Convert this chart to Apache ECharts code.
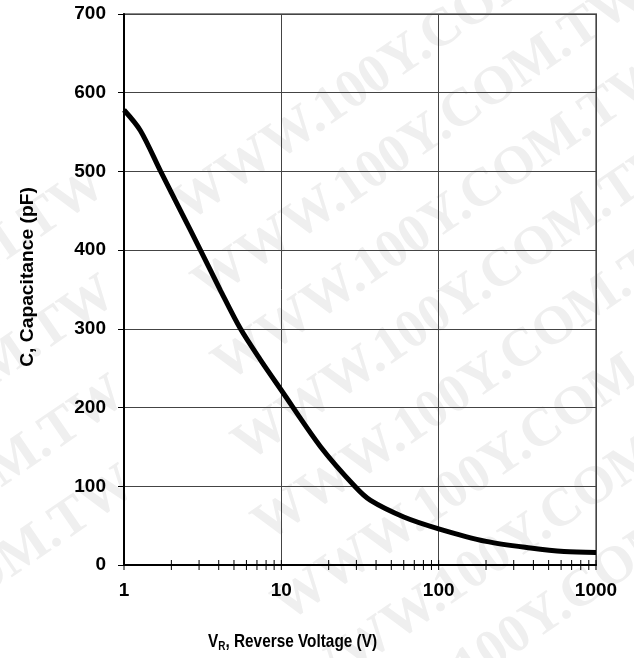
<!DOCTYPE html>
<html>
<head>
<meta charset="utf-8">
<script src="https://cdn.jsdelivr.net/npm/echarts@6/dist/echarts.min.js"></script>
<style>html,body{margin:0;padding:0;background:#fff}#c{width:634px;height:658px}</style>
</head>
<body>
<div id="c"></div>
<script>
// Data
var voltage = [1, 1.27, 1.71, 2.29, 3.06, 4.1, 5.5, 7.4, 10, 17.8, 29.6, 36.9, 60, 100, 200, 384, 626, 1000];
var capacitance = [578, 552, 500, 450, 400, 349, 300, 260, 222, 150, 99, 82, 61, 46, 30, 21.5, 17, 16];
var yTicks = [0, 100, 200, 300, 400, 500, 600, 700];
var xTickValues = [1,2,3,4,5,6,7,8,9,10,20,30,40,50,60,70,80,90,100,200,300,400,500,600,700,800,900,1000];
var yLabel = 'C, Capacitance (pF)';
var watermark = 'WWW.100Y.COM.TW';

var chart = echarts.init(document.getElementById('c'));
var font = '"Liberation Sans", Arial, sans-serif';

var lineData = voltage.map(function (v, i) { return [v, capacitance[i]]; });

var wmPos = [[400,60],[420,140],[440,220],[460,300],[480,380],[500,460],[520,540],[540,620],[-120,330],[-110,440],[-100,540],[-90,630]];
var graphics = wmPos.map(function (p) {
  return {
    type: 'text', x: p[0], y: p[1], rotation: 0.6, z: -10, silent: true,
    style: { text: watermark, font: 'bold 54px "Liberation Serif", "Times New Roman", serif', fill: '#efefef', align: 'center', verticalAlign: 'middle' }
  };
});
graphics.push({
  type: 'text', x: 208, y: 642, z: 10, scaleX: 0.83,
  style: {
    text: '{a|V}{s|R}{a|, Reverse Voltage (V)}',
    verticalAlign: 'middle',
    rich: {
      a: { font: 'bold 18.5px ' + font, fill: '#000' },
      s: { font: 'bold 12px ' + font, fill: '#000', padding: [10, 0, 0, 0] }
    }
  }
});
graphics.push({
  type: 'text', x: 28, y: 277, rotation: Math.PI / 2, z: 10, scaleX: 1.04,
  style: { text: yLabel, font: 'bold 18.5px ' + font, fill: '#000', align: 'center', verticalAlign: 'middle' }
});

chart.setOption({
  backgroundColor: '#fff',
  animation: false,
  grid: { left: 124, right: 38, top: 14, bottom: 93, show: true, borderColor: '#8a8a8a', borderWidth: 2, backgroundColor: 'transparent' },
  xAxis: {
    type: 'log', logBase: 10, min: 1, max: 1000,
    axisLine: { show: true, lineStyle: { color: '#000', width: 2 } },
    axisTick: { show: false },
    axisLabel: { margin: 16, fontFamily: font, fontWeight: 'bold', fontSize: 19, color: '#000', formatter: function (v) { return String(v); } },
    splitLine: { show: true, lineStyle: { color: '#444', width: 1 } },
    minorTick: { show: false }, minorSplitLine: { show: false }
  },
  yAxis: {
    type: 'value', min: 0, max: 700, interval: 100,
    axisLine: { show: true, lineStyle: { color: '#000', width: 2 } },
    axisTick: { show: true, length: 6, lineStyle: { color: '#000', width: 1 } },
    axisLabel: { margin: 18, fontFamily: font, fontWeight: 'bold', fontSize: 19, color: '#000' },
    splitLine: { show: true, lineStyle: { color: '#444', width: 1 } }
  },
  graphic: graphics,
  series: [
    {
      type: 'line', data: lineData, smooth: 0.3, showSymbol: false,
      lineStyle: { color: '#000', width: 5 }, z: 5
    },
    {
      type: 'custom', data: xTickValues.map(function (v) { return [v, 0]; }), z: 6, clip: false,
      renderItem: function (params, api) {
        var p = api.coord([api.value(0), 0]);
        return { type: 'line', shape: { x1: p[0], y1: p[1] - 5, x2: p[0], y2: p[1] + 5 }, style: { stroke: '#000', lineWidth: 1 } };
      }
    }
  ]
});
</script>
</body>
</html>
